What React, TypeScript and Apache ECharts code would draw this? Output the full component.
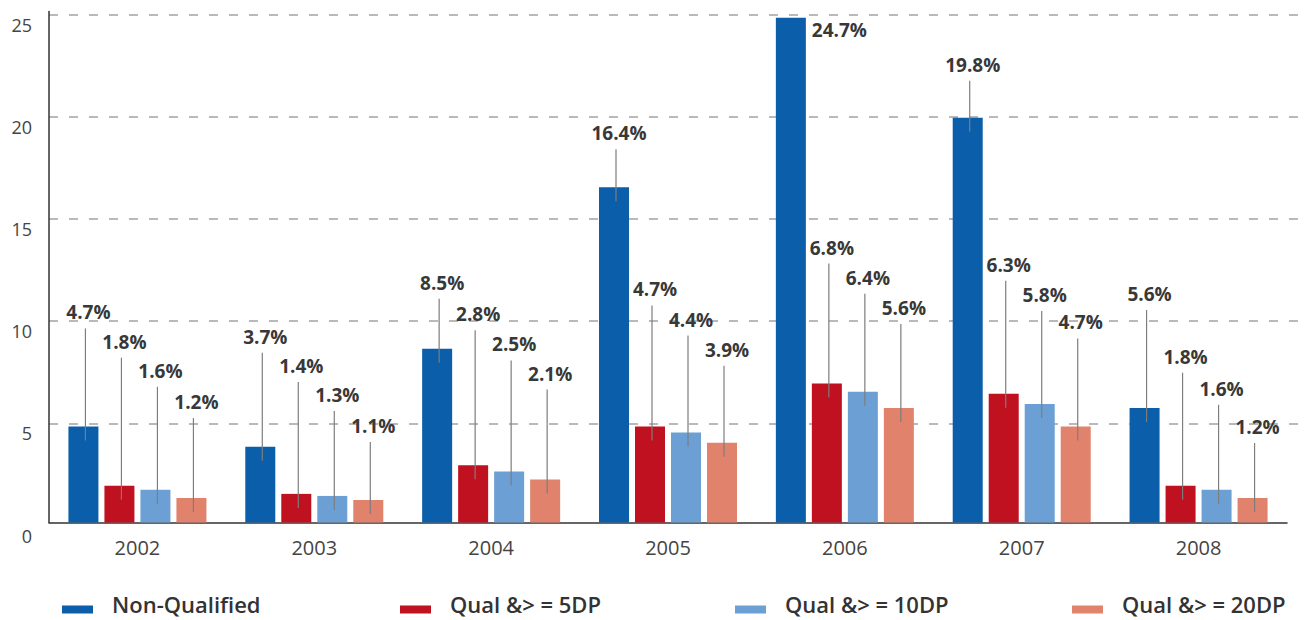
import React, { useEffect, useRef } from "react";
import * as echarts from "echarts";

const years = ["2002", "2003", "2004", "2005", "2006", "2007", "2008"];
const seriesNames = ["Non-Qualified", "Qual &> = 5DP", "Qual &> = 10DP", "Qual &> = 20DP"];
const nonQualified = [4.7, 3.7, 8.5, 16.4, 24.7, 19.8, 5.6];
const qual5 = [1.8, 1.4, 2.8, 4.7, 6.8, 6.3, 1.8];
const qual10 = [1.6, 1.3, 2.5, 4.4, 6.4, 5.8, 1.6];
const qual20 = [1.2, 1.1, 2.1, 3.9, 5.6, 4.7, 1.2];
const colors = ["#0b5ea9", "#bf111f", "#6c9fd4", "#e0826c"];

// label layout (pixel lift of the label above its bar top)
const liftNQ = [114, 110, 66, 54, 0, 53, 114];
const lift5 = [144, 128, 151, 137, 136, 129, 129];
const lift10 = [119, 101, 127, 113, 114, 109, 101];
const lift20 = [96, 74, 106, 93, 100, 104, 71];
// labels placed at the right of the bar instead of above: [seriesIdx, catIdx]
const rightLabels = [[0, 4]];

const legendLefts = [62, 400, 735, 1072];

const BAR_W = 30;
const BAR_STEP = 36;

export default function App() {
  const ref = useRef<HTMLDivElement>(null);
  useEffect(() => {
    document.body.style.margin = "0";
    const chart = echarts.init(ref.current!, null, { renderer: "svg" });
    const values = [nonQualified, qual5, qual10, qual20];
    const lifts = [liftNQ, lift5, lift10, lift20];
    const labelData: number[][] = [];
    values.forEach((arr, s) => {
      arr.forEach((v, i) => {
        const side = rightLabels.some((r) => r[0] === s && r[1] === i) ? 1 : 0;
        labelData.push([i, v, s, lifts[s][i], side]);
      });
    });
    const font = '"Open Sans", "Noto Sans", sans-serif';
    const option: any = {
      animation: false,
      backgroundColor: "#ffffff",
      grid: [
        { left: 49, right: 23, top: 11.5, bottom: 97.5 },
        { left: 49, right: 4, top: 14.5, bottom: 94.5 },
      ],
      xAxis: [
        {
          type: "category",
          gridIndex: 0,
          data: years,
          axisLine: { show: true, lineStyle: { color: "#333", width: 1.5 } },
          axisTick: { show: false },
          axisLabel: { color: "#444", fontSize: 20, fontFamily: font, margin: 15 },
        },
        {
          type: "category",
          gridIndex: 1,
          data: years,
          show: false,
        },
      ],
      yAxis: [
        {
          type: "value",
          gridIndex: 0,
          min: 0,
          max: 25,
          interval: 5,
          axisLine: { show: true, lineStyle: { color: "#333", width: 1.5 } },
          axisTick: { show: false },
          splitLine: { show: false },
          axisLabel: {
            color: "#444",
            fontSize: 18,
            fontFamily: font,
            margin: 17,
            verticalAlign: "top",
            padding: [4, 0, 0, 0],
          },
        },
        {
          type: "value",
          gridIndex: 1,
          min: 0,
          max: 25,
          interval: 5,
          axisLine: { show: false },
          axisTick: { show: false },
          axisLabel: { show: false },
          splitLine: {
            show: true,
            lineStyle: {
              color: ["rgba(0,0,0,0)", "#a3a3a3", "#a3a3a3", "#a3a3a3", "#a3a3a3", "#a3a3a3"],
              width: 1.5,
              type: [9, 11],
            },
          },
        },
      ],
      legend: seriesNames.map((name, k) => ({
        data: [name],
        left: legendLefts[k],
        top: 593,
        padding: 0,
        icon: "path://M0,0h31v0.01h-31z M0,11h31v8h-31z",
        itemWidth: 31,
        itemHeight: 19,
        selectedMode: false,
        textStyle: {
          color: "#333",
          fontSize: 22,
          fontWeight: 600,
          fontFamily: font,
          lineHeight: 22,
          padding: [0, 0, 0, 14],
        },
      })),
      series: [
        ...values.map((arr, s) => ({
          name: seriesNames[s],
          type: "bar",
          xAxisIndex: 0,
          yAxisIndex: 0,
          data: arr,
          barWidth: BAR_W,
          barGap: "20%",
          itemStyle: { color: colors[s] },
        })),
        {
          type: "custom",
          xAxisIndex: 0,
          yAxisIndex: 0,
          data: labelData,
          encode: { x: 0, y: 1 },
          clip: false,
          z: 5,
          renderItem: (params: any, api: any) => {
            const cat = api.value(0);
            const v = api.value(1);
            const s = api.value(2);
            const lift = api.value(3);
            const side = api.value(4);
            const p = api.coord([cat, v]);
            const cx = p[0] + (s - 1.5) * BAR_STEP;
            const top = p[1];
            const text = v.toFixed(1) + "%";
            const tStyle = {
              text,
              fill: "#383838",
              font: 'bold 19px "Open Sans", "Noto Sans", sans-serif',
            };
            if (side === 1) {
              return {
                type: "text",
                x: cx + BAR_W / 2 + 6,
                y: top + 12,
                style: { ...tStyle, align: "left", textAlign: "left", verticalAlign: "middle", textVerticalAlign: "middle" },
              };
            }
            const ly = top - lift;
            return {
              type: "group",
              children: [
                {
                  type: "line",
                  shape: { x1: cx + 2, y1: ly + 16, x2: cx + 2, y2: top + 14 },
                  style: { stroke: "#7d7d7d", lineWidth: 1.2 },
                },
                {
                  type: "text",
                  x: cx + 5,
                  y: ly,
                  style: { ...tStyle, align: "center", textAlign: "center", verticalAlign: "middle", textVerticalAlign: "middle" },
                },
              ],
            };
          },
        },
      ],
    };
    chart.setOption(option);
    return () => chart.dispose();
  }, []);
  return <div ref={ref} style={{ width: 1310, height: 620 }} />;
}
